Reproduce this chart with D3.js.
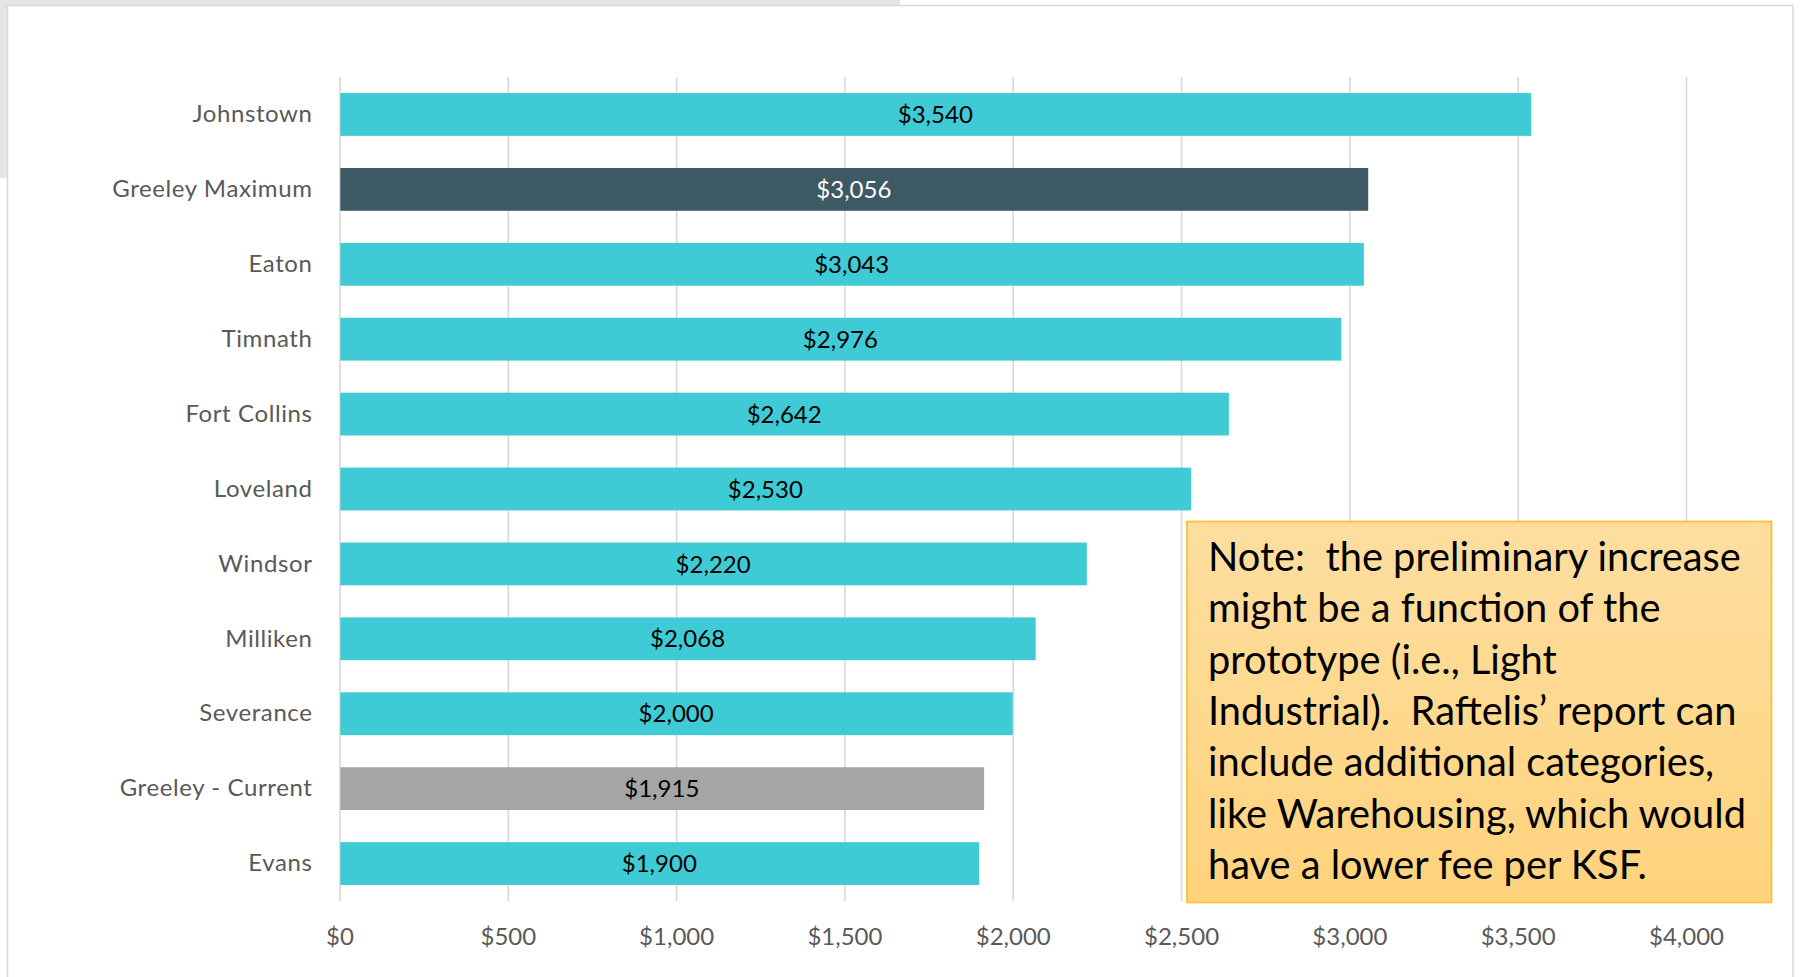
<!DOCTYPE html>
<html>
<head>
<meta charset="utf-8">
<script src="https://cdn.jsdelivr.net/npm/d3@7"></script>
<style>
  html, body { margin: 0; padding: 0; background: #ffffff; }
  svg { display: block; }
  text { font-family: Lato, "Open Sans", sans-serif; }
</style>
</head>
<body>
<script>
// Impact fee comparison per KSF by community
const categories = ["Johnstown", "Greeley Maximum", "Eaton", "Timnath", "Fort Collins", "Loveland",
                    "Windsor", "Milliken", "Severance", "Greeley - Current", "Evans"];
const fees = [3540, 3056, 3043, 2976, 2642, 2530, 2220, 2068, 2000, 1915, 1900];
const tickValues = [0, 500, 1000, 1500, 2000, 2500, 3000, 3500, 4000];
const noteLines = [
  "Note:  the preliminary increase",
  "might be a function of the",
  "prototype (i.e., Light",
  "Industrial).  Raftelis\u2019 report can",
  "include additional categories,",
  "like Warehousing, which would",
  "have a lower fee per KSF."
];

// Bar styling: Greeley figures are highlighted
const TEAL = "#3ECBD5", DARK = "#3D5964", GREY = "#A5A5A5";
const barFill = d => d === "Greeley Maximum" ? DARK : d === "Greeley - Current" ? GREY : TEAL;
const labelFill = d => d === "Greeley Maximum" ? "#ffffff" : "#000000";

const W = 1800, H = 977;
const svg = d3.select("body").append("svg").attr("width", W).attr("height", H);

// slide frame
svg.append("rect").attr("x", 0).attr("y", 0).attr("width", 900).attr("height", 6).attr("fill", "#E4E6E6");
svg.append("rect").attr("x", 0).attr("y", 0).attr("width", 7).attr("height", 178).attr("fill", "#E4E6E6");
svg.append("rect").attr("x", 7.5).attr("y", 5.5).attr("width", 1785.5).attr("height", H)
  .attr("fill", "#ffffff").attr("stroke", "#D9D9D9").attr("stroke-width", 1.5);

const x = d3.scaleLinear().domain([0, 4000]).range([339.5, 1686]);
const y = d3.scaleBand().domain(categories).range([77, 901])
  .paddingInner(0.4286).paddingOuter(0.2143);

// value axis with vertical gridlines
const xAxis = svg.append("g").attr("transform", "translate(0,901)")
  .call(d3.axisBottom(x).tickValues(tickValues)
    .tickFormat(d => "$" + d3.format(",")(d))
    .tickSize(-(901 - 77)).tickPadding(27));
xAxis.select(".domain").remove();
xAxis.selectAll(".tick line").attr("stroke", "#D9D9D9").attr("stroke-width", 1.6);
xAxis.selectAll(".tick text").attr("fill", "#595959").style("font-size", "24px");

// category axis
const yAxis = svg.append("g").attr("transform", "translate(339.5,0)")
  .call(d3.axisLeft(y).tickSize(0).tickPadding(27));
yAxis.select(".domain").remove();
yAxis.selectAll(".tick text").attr("fill", "#595959")
  .style("font-size", "24px").style("letter-spacing", "0.6px");

// bars
svg.append("g").selectAll("rect").data(categories).join("rect")
  .attr("x", x(0) + 0.8)
  .attr("y", d => y(d))
  .attr("width", (d, i) => x(fees[i]) - x(0) - 0.8)
  .attr("height", y.bandwidth())
  .attr("fill", d => barFill(d));

// centered value labels
svg.append("g").selectAll("text").data(categories).join("text")
  .attr("x", (d, i) => (x(0) + x(fees[i])) / 2)
  .attr("y", d => y(d) + y.bandwidth() / 2)
  .attr("dy", "0.36em")
  .attr("text-anchor", "middle")
  .attr("fill", d => labelFill(d))
  .style("font-size", "24px")
  .text((d, i) => "$" + d3.format(",")(fees[i]));

// note box
const defs = svg.append("defs");
const grad = defs.append("linearGradient").attr("id", "noteFill")
  .attr("x1", 0).attr("y1", 0).attr("x2", 0).attr("y2", 1);
grad.append("stop").attr("offset", "0%").attr("stop-color", "#FDDEA0");
grad.append("stop").attr("offset", "100%").attr("stop-color", "#FFD37C");

svg.append("rect").attr("x", 1187).attr("y", 521.5).attr("width", 584.5).attr("height", 381)
  .attr("fill", "url(#noteFill)").attr("stroke", "#F8C233").attr("stroke-width", 1.8);

const note = svg.append("text")
  .attr("fill", "#000000")
  .style("white-space", "pre")
  .style("font-size", "36px");
note.selectAll("tspan").data(noteLines).join("tspan")
  .attr("x", 1208)
  .attr("y", (d, i) => 570.7 + i * 51.4)
  .text(d => d);

// size the note text so its longest line spans the box's inner width
const firstLine = note.select("tspan").node().getComputedTextLength();
note.style("font-size", (36 * 533 / firstLine).toFixed(2) + "px");
</script>
</body>
</html>
